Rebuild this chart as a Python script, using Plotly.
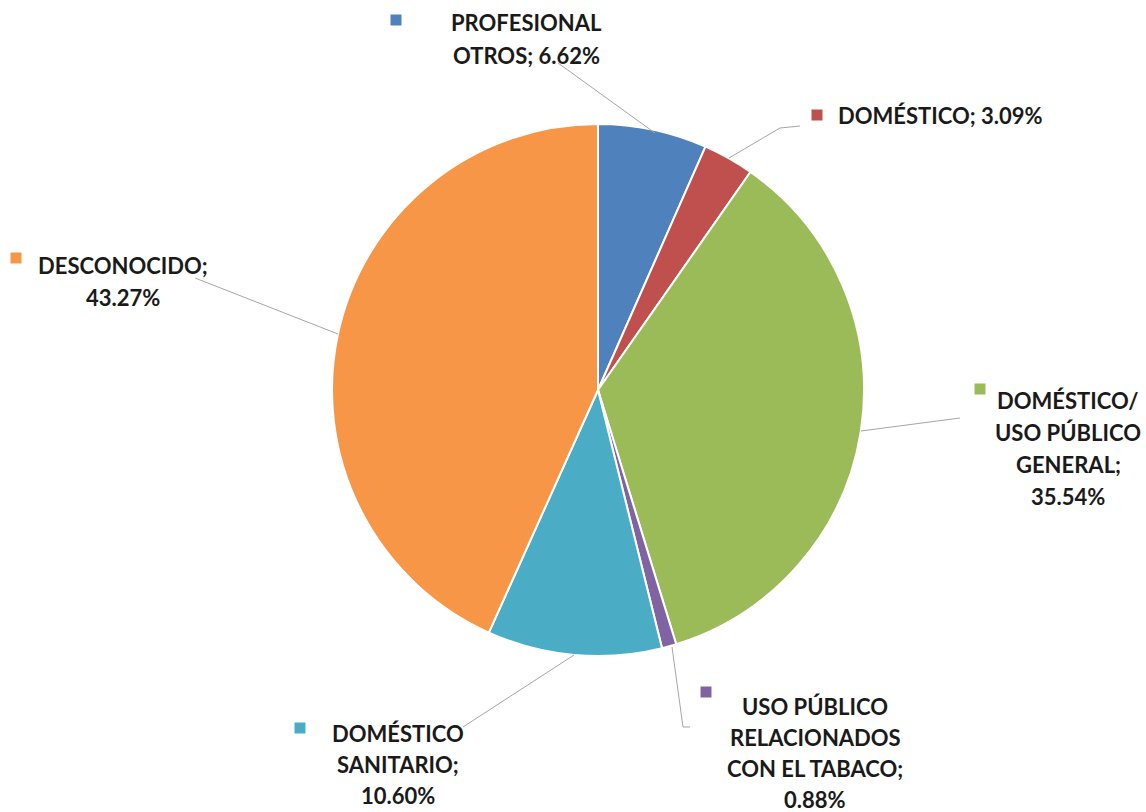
import plotly.graph_objects as go

# Data
categories = ["PROFESIONAL OTROS", "DOMÉSTICO", "DOMÉSTICO/ USO PÚBLICO GENERAL",
              "USO PÚBLICO RELACIONADOS CON EL TABACO", "DOMÉSTICO SANITARIO", "DESCONOCIDO"]
values = [6.62, 3.09, 35.54, 0.88, 10.60, 43.27]
colors = ["#4F81BD", "#C0504D", "#9BBB59", "#8064A2", "#4BACC6", "#F79646"]
label_lines = [
    ["PROFESIONAL", "OTROS; 6.62%"],
    ["DOMÉSTICO; 3.09%"],
    ["DOMÉSTICO/", "USO PÚBLICO", "GENERAL;", "35.54%"],
    ["USO PÚBLICO", "RELACIONADOS", "CON EL TABACO;", "0.88%"],
    ["DOMÉSTICO", "SANITARIO;", "10.60%"],
    ["DESCONOCIDO;", "43.27%"],
]

W, H = 1146, 812
cx, cy, r = 598, 390, 266

def px(x):
    return x / W

def py(y):
    return 1 - y / H

fig = go.Figure(go.Pie(
    labels=categories, values=values, sort=False, direction="clockwise", rotation=0,
    marker=dict(colors=colors, line=dict(color="white", width=2)),
    textinfo="none", hoverinfo="label+percent", showlegend=False,
    domain=dict(x=[px(cx - r), px(cx + r)], y=[py(cy + r), py(cy - r)]),
))

# label layout: (center x, first line y, line spacing, square x, square y)
label_pos = [
    (526, 22, 33, 396, 20),
    (940, 116, 32, 817, 115),
    (1068, 400, 32, 980, 389),
    (815, 706, 31, 706, 692),
    (398, 733, 31, 300, 728),
    (123, 265, 32, 16, 258),
]
leaders = [
    [(558, 63), (655, 133)],
    [(729, 158), (780, 128), (800, 126)],
    [(861, 431), (960, 418)],
    [(672, 647), (683, 727), (690, 727)],
    [(574, 655), (463, 727)],
    [(195, 278), (338, 334)],
]

shapes = []
annotations = []
for i, lines in enumerate(label_lines):
    lx, ly, ls, sx, sy = label_pos[i]
    for j, t in enumerate(lines):
        annotations.append(dict(
            x=px(lx), y=py(ly + j * ls), xref="paper", yref="paper",
            text=t, showarrow=False, xanchor="center", yanchor="middle",
            font=dict(family="Lato, Open Sans, sans-serif", size=22, color="#1a1a1a", weight="bold"),
        ))
    s = 5.5
    shapes.append(dict(type="rect", xref="paper", yref="paper",
                       x0=px(sx - s), x1=px(sx + s), y0=py(sy + s), y1=py(sy - s),
                       fillcolor=colors[i], line=dict(width=0)))
    pts = leaders[i]
    path = "M " + " L ".join(f"{px(a)},{py(b)}" for a, b in pts)
    shapes.append(dict(type="path", xref="paper", yref="paper", path=path,
                       line=dict(color="#A6A6A6", width=1)))

fig.update_layout(
    width=W, height=H, margin=dict(l=0, r=0, t=0, b=0),
    paper_bgcolor="white", plot_bgcolor="white",
    shapes=shapes, annotations=annotations,
)

fig.write_html("out.html", config={"displayModeBar": False},
               post_script="document.body.style.margin='0';document.body.style.overflow='hidden';")
